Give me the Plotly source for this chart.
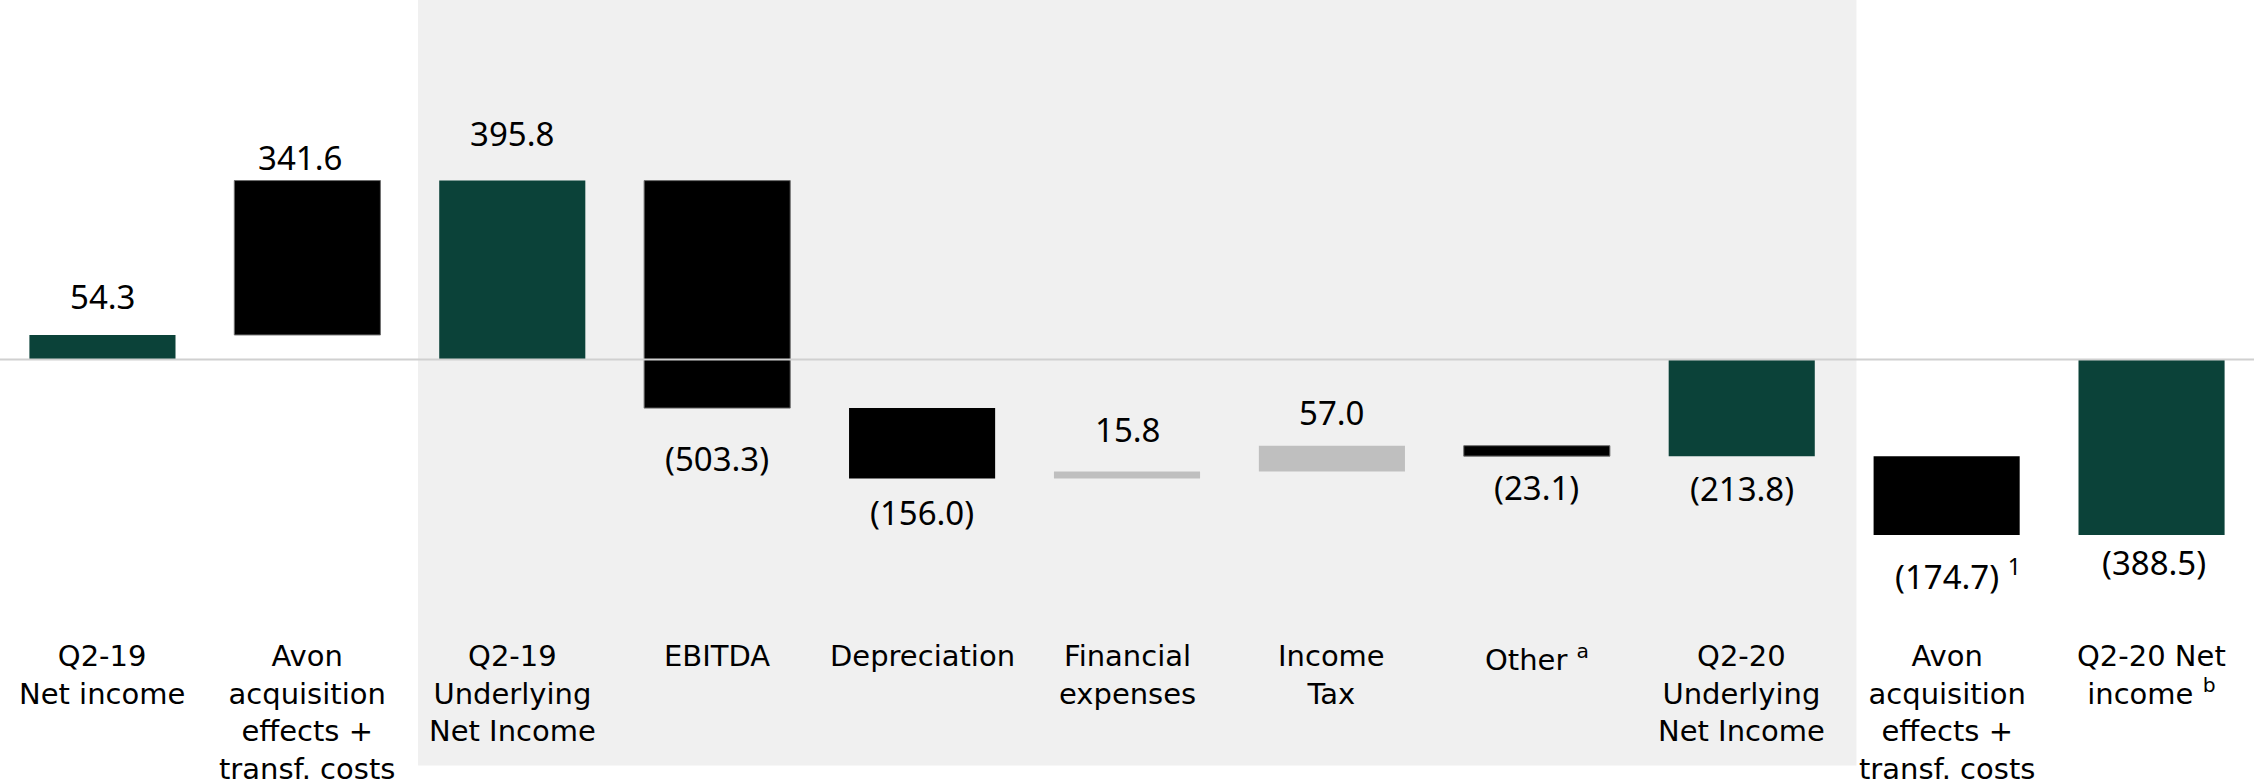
import plotly.graph_objects as go

# Net income bridge, Q2-19 to Q2-20 (R$ million)
categories = [
    "Q2-19<br>Net income",
    "Avon<br>acquisition<br>effects +<br>transf. costs",
    "Q2-19<br>Underlying<br>Net Income",
    "EBITDA",
    "Depreciation",
    "Financial<br>expenses",
    "Income<br>Tax",
    "Other <sup>a</sup>",
    "Q2-20<br>Underlying<br>Net Income",
    "Avon<br>acquisition<br>effects +<br>transf. costs",
    "Q2-20 Net<br>income <sup>b</sup>",
]
values = [54.3, 341.6, 395.8, -503.3, -156.0, 15.8, 57.0, -23.1, -213.8, -174.7, -388.5]
kinds = ["total", "delta", "total", "delta", "delta", "delta", "delta", "delta", "total", "delta", "total"]
value_labels = ["54.3", "341.6", "395.8", "(503.3)", "(156.0)", "15.8", "57.0",
                "(23.1)", "(213.8)", "(174.7) <sup>1</sup>", "(388.5)"]

GREEN = "#0b4239"
BLACK = "#000000"
LIGHT = "#bfbfbf"
bar_colors = [GREEN, BLACK, GREEN, BLACK, BLACK, LIGHT, LIGHT, BLACK, GREEN, BLACK, GREEN]
edge_widths = [0, 1, 0, 1, 0, 0, 0, 1, 0, 0, 0]
label_shift = [38, 23, 47, -50, -34, 42, 33, -31, -32, -39, -27]
label_xshift = [0, -7, 0, 0, 0, 0, 0, 0, 0, 11, 2]

# floating bars: totals start at zero, deltas start from the running total
bases, heights, ends = [], [], []
running = 0.0
for v, k in zip(values, kinds):
    if k == "total":
        base = 0.0
        running = v
    else:
        base = running
        running += v
    bases.append(base)
    heights.append(v)
    ends.append(base + v)

x = list(range(len(categories)))

fig = go.Figure()
fig.add_trace(go.Bar(
    x=x, y=heights, base=bases, width=0.713,
    marker=dict(color=bar_colors, line=dict(color="#6e6e6e", width=edge_widths)),
    hoverinfo="skip", showlegend=False,
))

W, H = 2254, 783
zero_px = 359.5
px_per_unit = 0.452
y_top = zero_px / px_per_unit
y_bot = -(H - zero_px) / px_per_unit

shapes = [
    # shaded underlying-results block
    dict(type="rect", xref="x", yref="paper", x0=1.54, x1=8.56,
         y0=1 - 765.5 / H, y1=1, fillcolor="#f0f0f0", line=dict(width=0), layer="below"),
    # zero line
    dict(type="line", xref="paper", yref="y", x0=0, x1=1, y0=0, y1=0,
         line=dict(color="#d0d0d0", width=2), layer="above"),
]

annotations = []
for i, (lab, end, dy, dx) in enumerate(zip(value_labels, ends, label_shift, label_xshift)):
    annotations.append(dict(
        x=i, y=end, xref="x", yref="y", text=lab, showarrow=False,
        yanchor="middle", xanchor="center", yshift=dy, xshift=dx,
        font=dict(family="Noto Sans", size=33, color="#000000"),
    ))
for i, cat in enumerate(categories):
    annotations.append(dict(
        x=i, y=1 - 637 / H, xref="x", yref="paper", text=cat, showarrow=False,
        yanchor="top", xanchor="center", align="center",
        font=dict(family="DejaVu Sans", size=29, color="#000000"),
    ))

fig.update_layout(
    width=W, height=H,
    margin=dict(l=0, r=0, t=0, b=0),
    paper_bgcolor="white", plot_bgcolor="white",
    bargap=0.287,
    xaxis=dict(range=[-0.5, len(categories) - 0.5], visible=False, fixedrange=True),
    yaxis=dict(range=[y_bot, y_top], visible=False, fixedrange=True),
    shapes=shapes, annotations=annotations,
)

fig.write_html("out.html", config={"displayModeBar": False})
